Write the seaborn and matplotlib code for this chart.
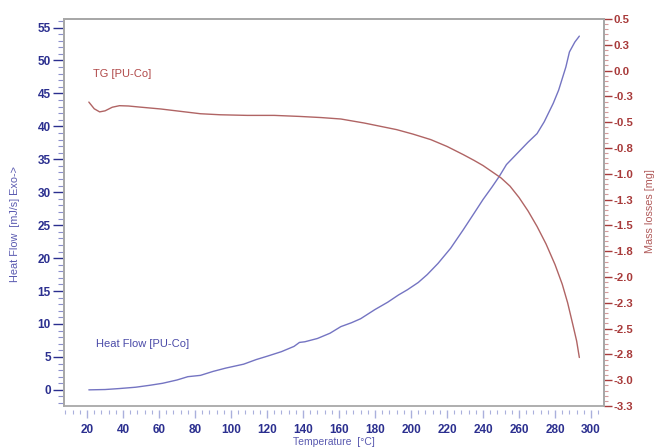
import numpy as np
import pandas as pd
import matplotlib
matplotlib.use("Agg")
import matplotlib.pyplot as plt
from matplotlib.ticker import MultipleLocator, FixedLocator, FixedFormatter
import seaborn as sns

# Heat flow curve (DSC), mJ/s vs temperature in °C
hf_temp = [21, 30, 38, 47, 55, 62, 70, 76, 83, 90, 97, 107, 114, 120, 128, 135,
           138, 141, 148, 155, 161, 167, 172, 180, 187, 193, 198, 204, 209, 215,
           222, 229, 235, 240, 245, 249, 253, 259, 265, 270, 274, 279, 282, 286,
           288, 291, 293.5]
hf_vals = [0.0, 0.05, 0.2, 0.4, 0.7, 1.0, 1.5, 2.0, 2.2, 2.8, 3.3, 3.9, 4.6, 5.1,
           5.8, 6.6, 7.2, 7.3, 7.8, 8.6, 9.6, 10.2, 10.8, 12.2, 13.3, 14.4, 15.2,
           16.3, 17.5, 19.2, 21.5, 24.3, 26.8, 28.9, 30.8, 32.4, 34.2, 35.9, 37.6,
           38.9, 40.7, 43.5, 45.5, 49.0, 51.3, 52.8, 53.7]

# Thermogravimetric curve, mass loss in mg
tg_temp = [21, 24, 27, 30, 34, 38, 43, 49, 61, 72, 83, 94, 109, 124, 138, 150,
           161, 174, 192, 201, 211, 220, 229, 235, 240, 245, 250, 255, 260, 265,
           270, 275, 280, 284, 287, 290, 292, 293.5]
tg_vals = [-0.305, -0.37, -0.40, -0.39, -0.355, -0.34, -0.343, -0.353, -0.372,
           -0.395, -0.418, -0.428, -0.434, -0.434, -0.444, -0.455, -0.469, -0.508,
           -0.572, -0.615, -0.669, -0.735, -0.814, -0.87, -0.92, -0.98, -1.04,
           -1.12, -1.23, -1.36, -1.51, -1.68, -1.88, -2.07, -2.25, -2.47, -2.62,
           -2.78]

x_ticks = list(range(20, 301, 20))
left_ticks = list(range(0, 56, 5))
right_ticks = [0.5, 0.25, 0.0, -0.25, -0.5, -0.75, -1.0, -1.25, -1.5, -1.75,
               -2.0, -2.25, -2.5, -2.75, -3.0, -3.25]
right_labels = ["0.5", "0.3", "0.0", "-0.3", "-0.5", "-0.8", "-1.0", "-1.3",
                "-1.5", "-1.8", "-2.0", "-2.3", "-2.5", "-2.8", "-3.0", "-3.3"]

NAVY = "#2b2f8f"
NAVY_LIGHT = "#5a5ab0"
RED = "#a83a3a"
RED_LIGHT = "#b05a5a"
HF_LINE = "#7474c2"
TG_LINE = "#b06464"
FRAME = "#a8a8a8"

sns.set_style("white")
plt.rcParams["font.family"] = ["Liberation Sans", "DejaVu Sans"]

fig = plt.figure(figsize=(6.56, 4.48), dpi=100)
ax = fig.add_axes([64 / 656, 1 - 406 / 448, 540 / 656, 387 / 448])
ax2 = ax.twinx()

hf_df = pd.DataFrame({"T": hf_temp, "HF": hf_vals})
tg_df = pd.DataFrame({"T": tg_temp, "TG": tg_vals})
sns.lineplot(data=hf_df, x="T", y="HF", ax=ax, color=HF_LINE, lw=1.0)
sns.lineplot(data=tg_df, x="T", y="TG", ax=ax2, color=TG_LINE, lw=1.0)

ax.set_xlim(7.2, 307.2)
ax.set_ylim(-2.45, 56.3)
ax2.set_ylim(-3.25, 0.5)

# grey frame
for a in (ax, ax2):
    for s in a.spines.values():
        s.set_color(FRAME)
        s.set_linewidth(1.3)
ax.spines["bottom"].set_position(("outward", 3))
ax.spines["bottom"].set_color("none")
ax2.spines["bottom"].set_color("none")
ax.plot([0, 1], [0, 0], transform=ax.transAxes, color=FRAME, lw=1.3,
        clip_on=False, zorder=5)

# x axis ticks
ax.xaxis.set_major_locator(FixedLocator(x_ticks))
ax.xaxis.set_minor_locator(MultipleLocator(4))
ax.tick_params(axis="x", which="major", direction="out", length=5.5, width=1.0,
               colors="#aab0dc", labelcolor=NAVY, labelsize=8.5, pad=4.3, bottom=True)
ax.tick_params(axis="x", which="minor", direction="out", length=2.6, width=0.8,
               color="#aab0dc", bottom=True)
for t, v in zip(ax.xaxis.get_major_ticks(), x_ticks):
    if (v - 20) % 60 == 0:
        t.tick1line.set_color(NAVY)
        t.tick1line.set_markersize(6)
for lbl in ax.get_xticklabels():
    lbl.set_fontweight("bold")

# left axis ticks
ax.yaxis.set_major_locator(FixedLocator(left_ticks))
ax.yaxis.set_minor_locator(MultipleLocator(1))
ax.tick_params(axis="y", which="major", direction="out", length=8, width=1.0,
               color=NAVY, labelcolor=NAVY, labelsize=8.5, pad=1.5, left=True)
ax.tick_params(axis="y", which="minor", direction="out", length=4.3, width=0.8,
               color="#8a8fcc", left=True)
for lbl in ax.get_yticklabels():
    lbl.set_fontweight("bold")

# right axis ticks
ax2.yaxis.set_major_locator(FixedLocator(right_ticks))
ax2.yaxis.set_major_formatter(FixedFormatter(right_labels))
ax2.yaxis.set_minor_locator(MultipleLocator(0.05))
ax2.tick_params(axis="y", which="major", direction="out", length=5.5, width=1.0,
                color=RED, labelcolor=RED, labelsize=8.2, pad=1.2, right=True)
ax2.tick_params(axis="y", which="minor", direction="out", length=3.2, width=0.8,
                color="#d49a9a", right=True)
for lbl in ax2.get_yticklabels():
    lbl.set_fontweight("bold")

ax.set_xlabel("Temperature  [°C]", color=NAVY_LIGHT, fontsize=7.5)
ax.xaxis.set_label_coords(0.5, -0.079)
ax.set_ylabel("Heat Flow  [mJ/s] Exo->", color=NAVY_LIGHT, fontsize=7.8)
ax.yaxis.set_label_coords(-0.081, 0.47)
ax2.set_ylabel("Mass losses [mg]", color=RED_LIGHT, fontsize=7.8)
ax2.yaxis.set_label_coords(1.076, 0.505)

ax.text(23.2, 48.0, "TG [PU-Co]", color="#b04848", fontsize=8, va="center")
ax.text(25.0, 7.0, "Heat Flow [PU-Co]", color="#4a4aa8", fontsize=8, va="center")

fig.savefig("out.png", dpi=100)
